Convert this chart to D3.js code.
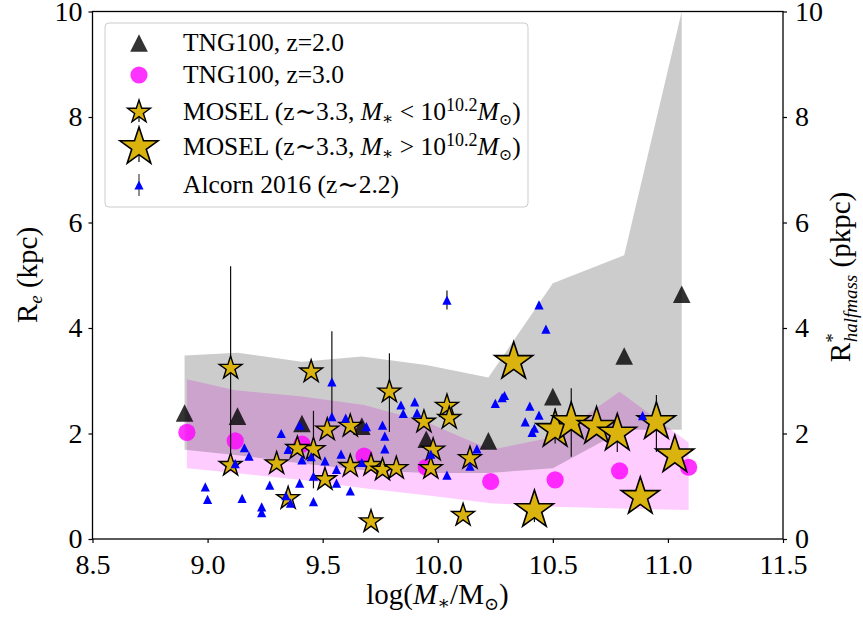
<!DOCTYPE html>
<html><head><meta charset="utf-8">
<script src="https://cdn.jsdelivr.net/npm/d3@7"></script>
<style>body{margin:0;background:#fff;} svg text{font-family:"Liberation Serif","DejaVu Serif",serif !important;}</style>
</head><body><svg id="c" width="863" height="617"></svg>
<script>
// ---- data ----
const xTicks = [8.5, 9.0, 9.5, 10.0, 10.5, 11.0, 11.5];
const yTicks = [0, 2, 4, 6, 8, 10];

// TNG100 z=2.0 medians and 16-84 band
const tng2X = [8.90, 9.13, 9.41, 9.67, 9.95, 10.22, 10.50, 10.81, 11.06];
const tng2Y = [2.39, 2.33, 2.19, 2.14, 1.89, 1.86, 2.70, 3.47, 4.64];
const tng2Hi = [3.48, 3.53, 3.36, 3.46, 3.30, 3.06, 4.85, 5.38, 10.0];
const tng2Lo = [1.69, 1.59, 1.43, 1.31, 1.25, 1.25, 1.34, 2.07, 2.07];

// TNG100 z=3.0
const tng3X = [8.91, 9.12, 9.41, 9.68, 9.95, 10.23, 10.51, 10.79, 11.09];
const tng3Y = [2.02, 1.86, 1.80, 1.57, 1.36, 1.09, 1.12, 1.29, 1.36];
const tng3Hi = [3.03, 2.82, 2.70, 2.54, 2.22, 1.69, 1.94, 2.79, 1.83];
const tng3Lo = [1.34, 1.25, 1.12, 0.96, 0.83, 0.68, 0.61, 0.58, 0.55];

// MOSEL low mass
const moselLoX = [9.10, 9.10, 9.45, 9.52, 9.46, 9.39, 9.30, 9.35, 9.51, 9.62, 9.62, 9.71, 9.76, 9.82, 9.71, 9.79, 9.94, 10.04, 10.05, 9.98, 9.97, 10.14, 10.11];
const moselLoY = [3.24, 1.40, 3.17, 2.07, 1.70, 1.72, 1.43, 0.77, 1.13, 2.14, 1.38, 1.40, 1.31, 1.34, 0.33, 2.79, 2.22, 2.52, 2.29, 1.69, 1.34, 1.53, 0.45];
const moselLoErrLo = [1.45, null, null, null, 0.96, null, null, null, null, null, null, null, null, null, null, 2.03, null, null, null, null, null, null, null];
const moselLoErrHi = [5.17, null, null, null, 2.43, null, null, null, null, null, null, null, null, null, null, 3.52, null, null, null, null, null, null, null];

// MOSEL high mass
const moselHiX = [10.33, 10.51, 10.58, 10.69, 10.78, 10.95, 11.03, 10.88, 10.42];
const moselHiY = [3.36, 2.07, 2.22, 2.13, 2.00, 2.22, 1.59, 0.80, 0.55];
const moselHiErrLo = [null, 1.81, 1.56, null, 1.65, 1.65, null, null, 0.32];
const moselHiErrHi = [null, 2.48, 2.86, null, 2.35, 2.73, null, null, 0.78];

// Alcorn 2016
const alcX = [10.04, 9.54, 9.54, 9.60, 9.69, 9.84, 9.90, 9.85, 9.91, 9.76, 9.77, 9.77, 9.32, 9.16, 9.18, 9.35, 9.41, 9.45, 9.51, 9.58, 9.56, 9.67, 9.46, 9.40, 9.27, 9.34, 9.56, 9.62, 8.99, 9.00, 9.15, 9.235, 9.235, 9.36, 9.46, 9.12, 9.97, 10.04, 9.40,
              10.44, 10.47, 10.29, 10.28, 10.25, 10.40, 10.44, 10.38, 10.42, 10.41, 10.17, 10.14, 10.89];
const alcY = [4.53, 2.98, 2.32, 2.29, 2.13, 2.54, 2.60, 2.38, 2.39, 2.16, 1.95, 1.71, 2.00, 1.73, 1.57, 1.70, 1.50, 1.56, 1.48, 1.61, 1.32, 1.45, 1.19, 1.06, 1.02, 0.82, 1.06, 0.91, 0.99, 0.75, 0.77, 0.61, 0.50, 0.68, 0.71, 1.43, 1.61, 1.21, 2.16,
              4.44, 3.98, 2.72, 2.68, 2.57, 2.52, 2.35, 2.22, 2.10, 2.02, 1.71, 1.38, 2.34];
const alcErrLo = [4.35, 2.32];
const alcErrHi = [4.71, 3.94];

// ---- drawing ----
const FONT = '"Liberation Serif","DejaVu Serif",serif';
const svg = d3.select('#c').attr('font-family', FONT);
const x = d3.scaleLinear([8.5, 11.5], [92.5, 783]);
const y = d3.scaleLinear([0, 10], [539, 11.5]);

const starPath = R => {
  const r = R * 0.381966, p = [];
  for (let i = 0; i < 10; i++) {
    const a = -Math.PI / 2 + i * Math.PI / 5, rr = i % 2 ? r : R;
    p.push([(rr * Math.cos(a)).toFixed(2), (rr * Math.sin(a)).toFixed(2)]);
  }
  return 'M' + p.join('L') + 'Z';
};
const triPath = h => `M0,${-h}L${-h},${h}L${h},${h}Z`;

const gPlot = svg.append('g');
gPlot.append('clipPath').attr('id', 'clip').append('rect')
  .attr('x', 92.5).attr('y', 11.5).attr('width', 783 - 92.5).attr('height', 539 - 11.5);
const g = gPlot.append('g').attr('clip-path', 'url(#clip)');

// bands
const band = (xs, lo, hi) => d3.area().x((d, i) => x(xs[i])).y0((d, i) => y(lo[i])).y1((d, i) => y(hi[i]))(xs);
g.append('path').attr('d', band(tng3X, tng3Lo, tng3Hi)).attr('fill', 'rgba(255,0,255,0.2)');
g.append('path').attr('d', band(tng2X, tng2Lo, tng2Hi)).attr('fill', 'rgba(0,0,0,0.2)');

// TNG z=2 triangles
tng2X.forEach((v, i) => g.append('path').attr('d', triPath(8.8))
  .attr('transform', `translate(${x(v)},${y(tng2Y[i])})`).attr('fill', 'rgba(0,0,0,0.8)'));
// TNG z=3 circles
tng3X.forEach((v, i) => g.append('circle').attr('cx', x(v)).attr('cy', y(tng3Y[i])).attr('r', 8.6)
  .attr('fill', 'rgba(255,0,255,0.8)'));

// MOSEL error bars
const errLine = (xv, lo, hi) => g.append('line').attr('x1', x(xv)).attr('x2', x(xv))
  .attr('y1', y(lo)).attr('y2', y(hi)).attr('stroke', '#111').attr('stroke-width', 1.2);
moselLoX.forEach((v, i) => { if (moselLoErrLo[i] != null) errLine(v, moselLoErrLo[i], moselLoErrHi[i]); });
moselHiX.forEach((v, i) => { if (moselHiErrLo[i] != null) errLine(v, moselHiErrLo[i], moselHiErrHi[i]); });

const starFill = '#DAB30E';
moselLoX.forEach((v, i) => g.append('path').attr('d', starPath(12))
  .attr('transform', `translate(${x(v)},${y(moselLoY[i])})`)
  .attr('fill', starFill).attr('stroke', '#000').attr('stroke-width', 1.4).attr('stroke-linejoin', 'miter'));
moselHiX.forEach((v, i) => g.append('path').attr('d', starPath(20))
  .attr('transform', `translate(${x(v)},${y(moselHiY[i])})`)
  .attr('fill', starFill).attr('stroke', '#000').attr('stroke-width', 1.6).attr('stroke-linejoin', 'miter'));

// Alcorn
alcErrLo.forEach((lo, i) => errLine(alcX[i], lo, alcErrHi[i]));
alcX.forEach((v, i) => g.append('path').attr('d', triPath(4.6))
  .attr('transform', `translate(${x(v)},${y(alcY[i])})`).attr('fill', '#0000ff'));

// axes
const fs = 28;
const styleAxis = sel => {
  sel.attr('font-family', FONT);
  sel.select('.domain').remove();
  sel.selectAll('line').attr('stroke', '#000').attr('stroke-width', 1.2);
  sel.selectAll('text').attr('font-size', fs).attr('fill', '#000').attr('font-family', FONT);
};
svg.append('g').attr('transform', 'translate(0,539)')
  .call(d3.axisBottom(x).tickValues(xTicks).tickFormat(d3.format('.1f')).tickSize(4).tickPadding(11))
  .call(styleAxis);
svg.append('g').attr('transform', 'translate(92.5,0)')
  .call(d3.axisLeft(y).tickValues(yTicks).tickFormat(d3.format('d')).tickSize(4).tickPadding(6))
  .call(styleAxis);
svg.append('g').attr('transform', 'translate(783,0)')
  .call(d3.axisRight(y).tickValues(yTicks).tickFormat(d3.format('d')).tickSize(4).tickPadding(8))
  .call(styleAxis);
svg.append('rect').attr('x', 92.5).attr('y', 11.5).attr('width', 783 - 92.5).attr('height', 539 - 11.5)
  .attr('fill', 'none').attr('stroke', '#000').attr('stroke-width', 1.3);

// axis titles
const xt = svg.append('text').attr('x', 437.5).attr('y', 604).attr('text-anchor', 'middle').attr('font-size', 29);
xt.append('tspan').text('log(');
xt.append('tspan').attr('font-style', 'italic').text('M');
xt.append('tspan').attr('font-size', 19).attr('dy', 5).text('∗');
xt.append('tspan').attr('dy', -5).text('/M');
xt.append('tspan').attr('font-size', 18).attr('dy', 6).text('⊙');
xt.append('tspan').attr('dy', -6).text(')');

const yl = svg.append('text').attr('transform', 'translate(37,275) rotate(-90)').attr('text-anchor', 'middle').attr('font-size', 29);
yl.append('tspan').text('R');
yl.append('tspan').attr('font-size', 19).attr('font-style', 'italic').attr('dy', 5).text('e');
yl.append('tspan').attr('dy', -5).text(' (kpc)');

const yr = svg.append('text').attr('transform', 'translate(850,277) rotate(-90)').attr('text-anchor', 'middle').attr('font-size', 29);
yr.append('tspan').text('R');
yr.append('tspan').attr('font-size', 19).attr('dy', -11).text('*');
yr.append('tspan').attr('font-size', 19).attr('font-style', 'italic').attr('dx', -9).attr('dy', 18).text('halfmass');
yr.append('tspan').attr('dy', -7).text('  (pkpc)');

// legend
svg.append('rect').attr('x', 105).attr('y', 23).attr('width', 423).attr('height', 184).attr('rx', 4)
  .attr('fill', 'rgba(255,255,255,0.8)').attr('stroke', '#cccccc').attr('stroke-width', 1);
const lx = 139, tx = 183, lfs = 25.5;
const rows = [43, 75, 112, 147, 185];
svg.append('path').attr('d', triPath(8.8)).attr('transform', `translate(${lx},${rows[0]})`).attr('fill', 'rgba(0,0,0,0.8)');
svg.append('circle').attr('cx', lx).attr('cy', rows[1]).attr('r', 8.6).attr('fill', 'rgba(255,0,255,0.8)');
svg.append('line').attr('x1', lx).attr('x2', lx).attr('y1', rows[2]).attr('y2', rows[2] + 10).attr('stroke', '#111').attr('stroke-width', 1.2);
svg.append('path').attr('d', starPath(12)).attr('transform', `translate(${lx},${rows[2]})`)
  .attr('fill', starFill).attr('stroke', '#000').attr('stroke-width', 1.4);
svg.append('line').attr('x1', lx).attr('x2', lx).attr('y1', rows[3]).attr('y2', rows[3] + 15).attr('stroke', '#111').attr('stroke-width', 1.2);
svg.append('path').attr('d', starPath(20)).attr('transform', `translate(${lx},${rows[3]})`)
  .attr('fill', starFill).attr('stroke', '#000').attr('stroke-width', 1.6);
svg.append('line').attr('x1', lx).attr('x2', lx).attr('y1', rows[4] - 11).attr('y2', rows[4] + 11).attr('stroke', '#444').attr('stroke-width', 1.2);
svg.append('path').attr('d', triPath(4.6)).attr('transform', `translate(${lx},${rows[4]})`).attr('fill', '#0000ff');

const lt = (i) => svg.append('text').attr('x', tx).attr('y', rows[i] + 8).attr('font-size', lfs).attr('fill', '#000');
lt(0).text('TNG100, z=2.0');
lt(1).text('TNG100, z=3.0');
const mosel = (i, op) => {
  const t = lt(i);
  t.append('tspan').text('MOSEL (z∼3.3, ');
  t.append('tspan').attr('font-style', 'italic').text('M');
  t.append('tspan').attr('font-size', 17).attr('dy', 4).text('∗');
  t.append('tspan').attr('dy', -4).text(' ' + op + ' 10');
  t.append('tspan').attr('font-size', 18).attr('dy', -9).text('10.2');
  t.append('tspan').attr('font-style', 'italic').attr('dy', 9).text('M');
  t.append('tspan').attr('font-size', 16).attr('dy', 5).text('⊙');
  t.append('tspan').attr('dy', -5).text(')');
};
mosel(2, '<');
mosel(3, '>');
lt(4).text('Alcorn 2016 (z∼2.2)');
</script></body></html>
